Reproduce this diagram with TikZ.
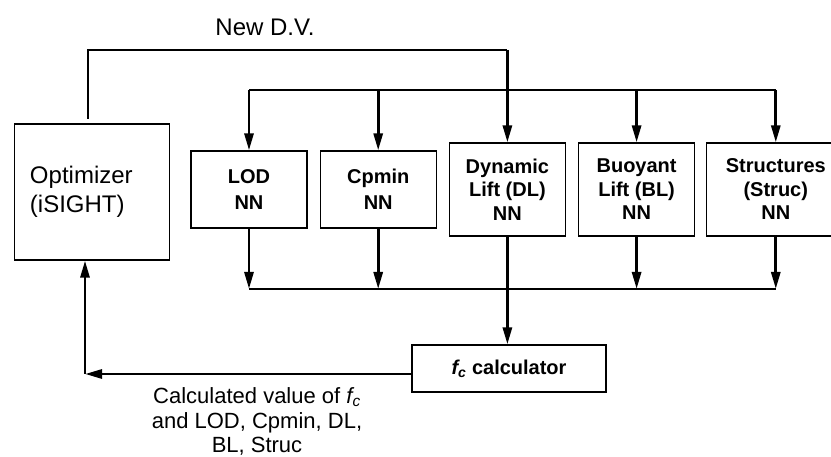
\documentclass[tikz,border=0pt]{standalone}
\usepackage{fontspec}
\setmainfont{Liberation Sans}
\usetikzlibrary{positioning,arrows.meta}

\begin{document}
\begin{tikzpicture}[
  x=1pt, y=-1pt,
  font=\fontsize{20}{24}\selectfont,
  optbox/.style={rectangle, draw, line width=1.2pt, minimum width=155pt, minimum height=136pt,
    inner sep=0pt, text width=124pt, align=left, font=\fontsize{24}{29}\selectfont},
  nn/.style={rectangle, draw, line width=1.2pt, minimum width=116pt, minimum height=93pt,
    inner sep=0pt, align=center, font=\fontsize{20}{23.5}\selectfont\bfseries},
  arr/.style={-{Triangle[length=17pt,width=9pt]}, line width=2.8pt},
  bus/.style={line width=1.3pt}]
  \useasboundingbox (0,0) rectangle (831,457);
  \clip (0,0) rectangle (831,457);
  % optimizer and the five networks
  \node[optbox] (opt) at (92,192) {Optimizer\\(iSIGHT)};
  \node[nn, minimum height=77pt, font=\fontsize{20}{26}\selectfont\bfseries] (lod) at (249,189.5) {LOD\\NN};
  \node[nn, minimum height=77pt, font=\fontsize{20}{26}\selectfont\bfseries, right=12pt of lod] (cpmin) {Cpmin\\NN};
  \node[nn, right=12pt of cpmin] (dl)    {Dynamic\\Lift (DL)\\NN};
  \node[nn, right=12pt of dl]    (bl)    {Buoyant\\Lift (BL)\\NN};
  \node[nn, minimum width=138pt, right=11pt of bl] (struc) {Structures\\(Struc)\\NN};
  \node[nn, minimum width=194pt, minimum height=47pt] (calc) at (509,368.5)
    {\textit{f\textsubscript{c}} calculator};
  % labels
  \node[font=\fontsize{24}{29}\selectfont] (newdv) at (265,27) {New D.V.};
  \node[align=center, font=\fontsize{22}{24.5}\selectfont] (result) at (257,421.5)
    {Calculated value of \textit{f\textsubscript{c}}\\and LOD, Cpmin, DL,\\BL, Struc};
  % buses
  \coordinate (dvtop)  at (0,50);
  \coordinate (dvstart) at (88,119);
  \coordinate (topbus) at (0,90);
  \coordinate (botbus) at (0,289);
  \coordinate (ret)    at (85,374);
  \draw[bus] (dvstart) |- (dl.north |- dvtop);
  \draw[arr] (dl.north |- dvtop) -- (dl.north);
  \draw[bus] (lod.north |- topbus) -- (struc.north |- topbus);
  \draw[arr] (lod.north |- topbus) -- (lod.north);
  \draw[arr] (cpmin.north |- topbus) -- (cpmin.north);
  \draw[arr] (bl.north |- topbus) -- (bl.north);
  \draw[arr] (struc.north |- topbus) -- (struc.north);
  \draw[arr] (lod.south) -- (lod.south |- botbus);
  \draw[arr] (cpmin.south) -- (cpmin.south |- botbus);
  \draw[arr] (bl.south) -- (bl.south |- botbus);
  \draw[arr] (struc.south) -- (struc.south |- botbus);
  \draw[bus] (lod.south |- botbus) -- (struc.south |- botbus);
  \draw[arr] (dl.south) -- (dl.south |- calc.north);
  % feedback to the optimizer
  \draw[arr] (calc.west |- ret) -- (ret);
  \draw[arr] (ret) -- (ret |- opt.south);
\end{tikzpicture}
\end{document}
